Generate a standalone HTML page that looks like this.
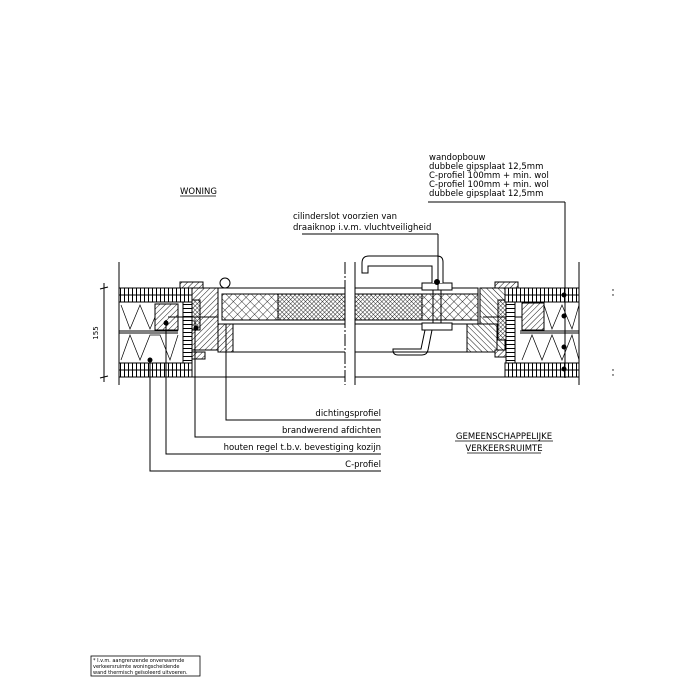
<!DOCTYPE html>
<html><head><meta charset="utf-8"><style>
html,body{margin:0;padding:0;background:#fff;}
svg{display:block;}
text{font-family:"DejaVu Sans","Liberation Sans",sans-serif;font-size:8.5px;fill:#000;}
</style></head><body>
<svg width="700" height="700" viewBox="0 0 700 700" xmlns="http://www.w3.org/2000/svg">
<defs>
<pattern id="diag" width="4" height="4" patternUnits="userSpaceOnUse" patternTransform="rotate(45)">
<rect width="4" height="4" fill="#fff"/><line x1="0" y1="0" x2="0" y2="4" stroke="#000" stroke-width="0.9"/></pattern>
<pattern id="diag2" width="4" height="4" patternUnits="userSpaceOnUse" patternTransform="rotate(-45)">
<rect width="4" height="4" fill="#fff"/><line x1="0" y1="0" x2="0" y2="4" stroke="#000" stroke-width="0.9"/></pattern>
<pattern id="cross" width="6" height="6" patternUnits="userSpaceOnUse" patternTransform="rotate(45)">
<rect width="6" height="6" fill="#fff"/><line x1="0" y1="0" x2="0" y2="6" stroke="#000" stroke-width="0.8"/><line x1="0" y1="0" x2="6" y2="0" stroke="#000" stroke-width="0.8"/></pattern>
<pattern id="crossd" width="3" height="3" patternUnits="userSpaceOnUse" patternTransform="rotate(45)">
<rect width="3" height="3" fill="#fff"/><line x1="0" y1="0" x2="0" y2="3" stroke="#000" stroke-width="0.8"/><line x1="0" y1="0" x2="3" y2="0" stroke="#000" stroke-width="0.8"/></pattern>
<pattern id="brick" width="4" height="7" patternUnits="userSpaceOnUse">
<rect width="4" height="7" fill="#fff"/><line x1="0.5" y1="0" x2="0.5" y2="7" stroke="#000" stroke-width="1"/></pattern>
<pattern id="brickv" width="7" height="4" patternUnits="userSpaceOnUse">
<rect width="7" height="4" fill="#fff"/><line x1="0" y1="0.5" x2="7" y2="0.5" stroke="#000" stroke-width="1"/></pattern>
</defs>
<g stroke="#000" stroke-width="1" fill="none">
<rect x="119" y="288" width="73" height="7" fill="url(#brick)"/>
<rect x="119" y="295" width="73" height="7" fill="url(#brick)"/>
<rect x="119" y="363" width="73" height="7" fill="url(#brick)"/>
<rect x="119" y="370" width="73" height="7" fill="url(#brick)"/>
<rect x="183" y="302" width="9" height="61" fill="url(#brickv)"/>
<line x1="119" y1="331" x2="178" y2="331"/><line x1="119" y1="333" x2="178" y2="333"/>
<polyline points="121,305 130,329 140,305 150,329 160,305 170,329 178,305" stroke-width="0.7"/>
<polyline points="121,360 130,335 140,360 150,335 160,335 170,360 178,335" stroke-width="0.7"/>
<rect x="155" y="304" width="23" height="26" fill="url(#diag)"/>
<rect x="180" y="282" width="23" height="6" fill="url(#diag)"/>
<rect x="192" y="288" width="26" height="62" fill="url(#diag)"/>
<rect x="218" y="324" width="15" height="28" fill="url(#diag)"/>
<rect x="192" y="352" width="13" height="7" fill="url(#diag)"/>
<rect x="192" y="300" width="8" height="30" fill="url(#crossd)"/>
<line x1="168" y1="317" x2="218" y2="317"/>
<circle cx="225" cy="283" r="5"/>
<rect x="218" y="288" width="127" height="36"/>
<rect x="222" y="294" width="56" height="26" fill="url(#cross)"/>
<rect x="278" y="294" width="67" height="26" fill="url(#crossd)"/>
<rect x="355" y="288" width="123" height="36"/>
<rect x="355" y="294" width="67" height="26" fill="url(#crossd)"/>
<rect x="422" y="294" width="56" height="26" fill="url(#cross)"/>
<line x1="345" y1="262" x2="345" y2="385" stroke-dasharray="12,2,2,2"/>
<line x1="355" y1="262" x2="355" y2="385"/>
<line x1="119" y1="377" x2="345" y2="377"/><line x1="233" y1="352" x2="345" y2="352"/>
<line x1="355" y1="377" x2="579" y2="377"/><line x1="355" y1="352" x2="467" y2="352"/>
<rect x="422" y="283" width="30" height="7" fill="#fff"/>
<rect x="422" y="323" width="30" height="7" fill="#fff"/>
<line x1="433" y1="290" x2="433" y2="323"/><line x1="441" y1="290" x2="441" y2="323"/>
<path d="M443,283 V262 Q443,256 437,256 H369 Q362,256 362,263 V273 H368 V266 H432 V283" fill="#fff"/>
<path d="M432,330 L428,350 Q427,355 422,355 H398 Q393,355 393,350 V349 H421 L425,330"/>
<circle cx="437" cy="282" r="2.5" fill="#000"/>
<rect x="495" y="282" width="23" height="6" fill="url(#diag)"/>
<rect x="480" y="288" width="25" height="62" fill="url(#diag2)"/>
<rect x="467" y="324" width="30" height="28" fill="url(#diag2)"/>
<rect x="495" y="350" width="13" height="7" fill="url(#diag)"/>
<rect x="498" y="300" width="8" height="40" fill="url(#crossd)"/>
<line x1="483" y1="317" x2="530" y2="317"/>
<rect x="505" y="288" width="74" height="7" fill="url(#brick)"/>
<rect x="505" y="295" width="74" height="7" fill="url(#brick)"/>
<rect x="505" y="363" width="74" height="7" fill="url(#brick)"/>
<rect x="505" y="370" width="74" height="7" fill="url(#brick)"/>
<rect x="506" y="302" width="9" height="61" fill="url(#brickv)"/>
<line x1="520" y1="331" x2="579" y2="331"/><line x1="520" y1="333" x2="579" y2="333"/>
<rect x="522" y="303" width="22" height="27" fill="url(#diag)"/>
<polyline points="544,305 552,329 562,305 572,329 579,305" stroke-width="0.7"/>
<polyline points="522,360 532,335 542,360 552,335 562,360 572,335 579,360" stroke-width="0.7"/>
<line x1="579" y1="262" x2="579" y2="385"/>
<line x1="119" y1="262" x2="119" y2="385"/>
<line x1="104" y1="283" x2="104" y2="382"/>
<line x1="100" y1="289" x2="108" y2="287"/><line x1="100" y1="378" x2="108" y2="376"/>
<line x1="428" y1="202" x2="565" y2="202"/><line x1="565" y1="202" x2="565" y2="378"/>
<line x1="302" y1="234" x2="438" y2="234"/><line x1="438" y1="234" x2="438" y2="290"/>
<polyline points="226,324 226,420 381,420"/>
<polyline points="195,320 195,437 381,437"/>
<polyline points="166,320 166,454 381,454"/>
<polyline points="150,360 150,471 381,471"/>
<line x1="180" y1="196" x2="216" y2="196" stroke-width="0.8"/>
<line x1="455" y1="441" x2="553" y2="441" stroke-width="0.8"/>
<line x1="467" y1="453" x2="541" y2="453" stroke-width="0.8"/>
<rect x="91" y="656" width="109" height="20" stroke-width="0.8"/>
</g>
<g fill="#000">
<circle cx="166" cy="323" r="2.5"/><circle cx="150" cy="360" r="2.5"/><circle cx="196" cy="328" r="2.5"/>
<circle cx="564" cy="295" r="2.5"/><circle cx="564" cy="316" r="2.5"/><circle cx="564" cy="347" r="2.5"/><circle cx="564" cy="369" r="2.5"/>
<circle cx="613" cy="290" r="0.7"/><circle cx="613" cy="295" r="0.7"/><circle cx="613" cy="370" r="0.7"/><circle cx="613" cy="375" r="0.7"/>
</g>
<text x="98" y="333" transform="rotate(-90 98 333)" text-anchor="middle" style="font-size:7px">155</text>
<text x="180" y="194">WONING</text>
<text x="429" y="160">wandopbouw</text>
<text x="429" y="169">dubbele gipsplaat 12,5mm</text>
<text x="429" y="178">C-profiel 100mm + min. wol</text>
<text x="429" y="187">C-profiel 100mm + min. wol</text>
<text x="429" y="196">dubbele gipsplaat 12,5mm</text>
<text x="293" y="219">cilinderslot voorzien van</text>
<text x="293" y="230">draaiknop i.v.m. vluchtveiligheid</text>
<text x="381" y="416" text-anchor="end">dichtingsprofiel</text>
<text x="381" y="433" text-anchor="end">brandwerend afdichten</text>
<text x="381" y="450" text-anchor="end">houten regel t.b.v. bevestiging kozijn</text>
<text x="381" y="467" text-anchor="end">C-profiel</text>
<text x="504" y="439" text-anchor="middle">GEMEENSCHAPPELIJKE</text>
<text x="504" y="451" text-anchor="middle">VERKEERSRUIMTE</text>
<text x="93" y="662" style="font-size:5px">* I.v.m. aangrenzende onverwarmde</text>
<text x="93" y="668" style="font-size:5px">verkeersruimte woningscheidende</text>
<text x="93" y="674" style="font-size:5px">wand thermisch geïsoleerd uitvoeren.</text>
</svg>
</body></html>
